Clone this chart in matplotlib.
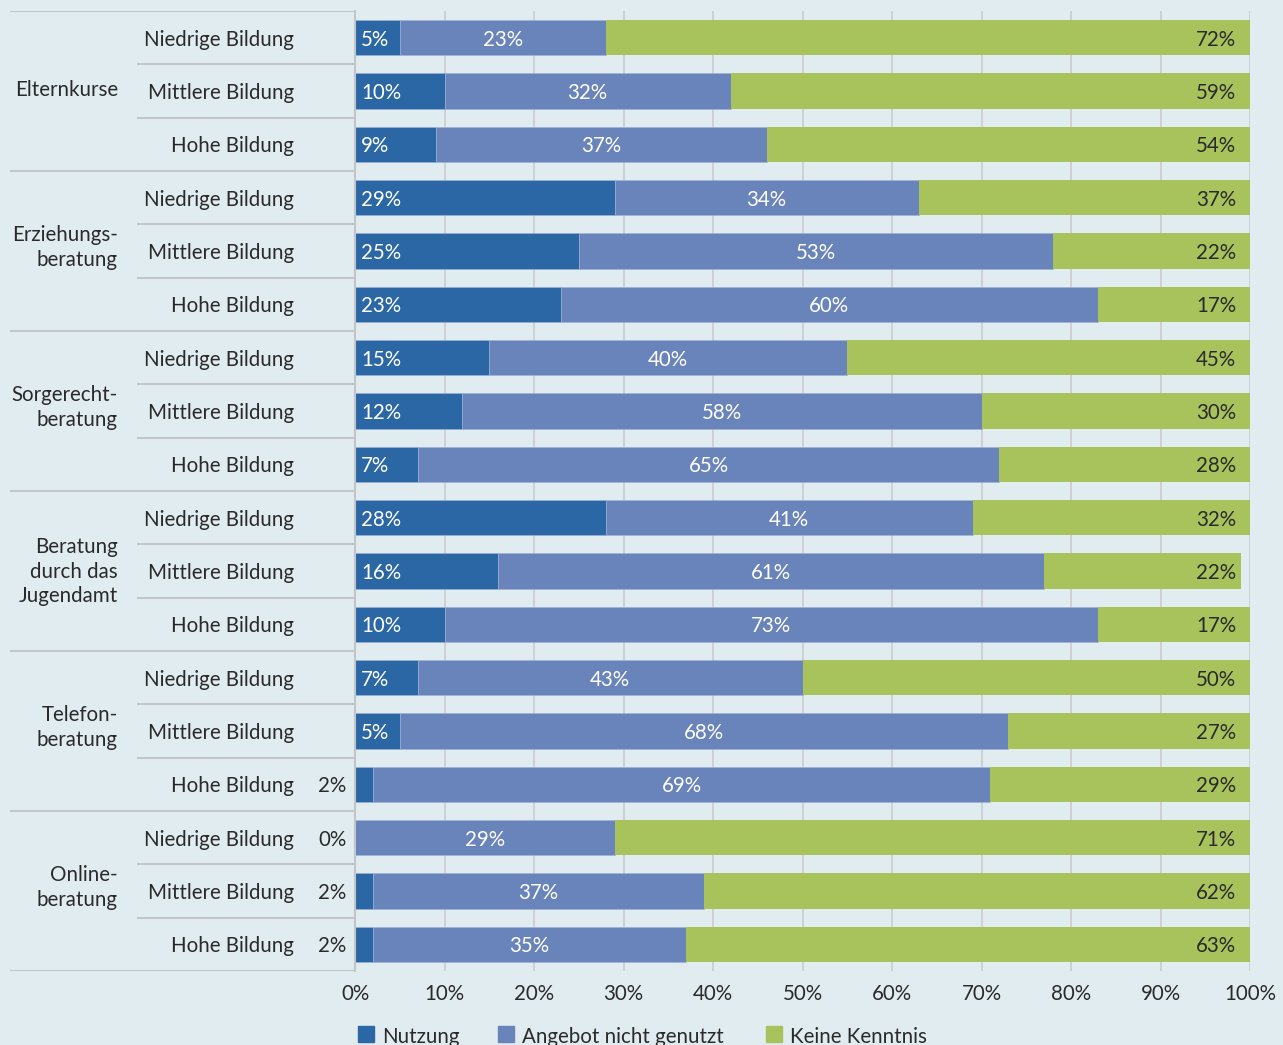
import matplotlib
matplotlib.use("Agg")
import matplotlib.pyplot as plt
from matplotlib.patches import Rectangle

plt.rcParams['font.family'] = ['Lato', 'DejaVu Sans']

groups = ["Elternkurse", "Erziehungs-\nberatung", "Sorgerecht-\nberatung",
          "Beratung\ndurch das\nJugendamt", "Telefon-\nberatung", "Online-\nberatung"]
levels = ["Niedrige Bildung", "Mittlere Bildung", "Hohe Bildung"]

nutzung = [5, 10, 9, 29, 25, 23, 15, 12, 7, 28, 16, 10, 7, 5, 2, 0, 2, 2]
nicht_genutzt = [23, 32, 37, 34, 53, 60, 40, 58, 65, 41, 61, 73, 43, 68, 69, 29, 37, 35]
keine_kenntnis = [72, 59, 54, 37, 22, 17, 45, 30, 28, 32, 22, 17, 50, 27, 29, 71, 62, 63]

series_names = ["Nutzung", "Angebot nicht genutzt", "Keine Kenntnis"]
colors = ["#2c67a5", "#6983bb", "#a8c25c"]
bg = "#e1ecf0"
text_dark = "#2a2a2a"
line_gray = "#c3c6c9"

W, H = 1283, 1045
fig = plt.figure(figsize=(W / 100, H / 100), dpi=100, facecolor=bg)

ax_l, ax_r, ax_t, ax_b = 355, 1250, 11, 971
ax = fig.add_axes([ax_l / W, 1 - ax_b / H, (ax_r - ax_l) / W, (ax_b - ax_t) / H])
ax.set_facecolor(bg)

n = len(nutzung)
rows = list(range(n))
bar_h = 0.66
fs = 14.8
va = "center_baseline"

ax.barh(rows, nutzung, height=bar_h, color=colors[0], edgecolor="#9fb3d6", linewidth=0.4, zorder=3)
left2 = nutzung
ax.barh(rows, nicht_genutzt, left=left2, height=bar_h, color=colors[1], edgecolor="#9fb3d6", linewidth=0.4, zorder=3)
left3 = [a + b for a, b in zip(nutzung, nicht_genutzt)]
ax.barh(rows, keine_kenntnis, left=left3, height=bar_h, color=colors[2], edgecolor="none", linewidth=0, zorder=3)

ax.set_xlim(0, 100)
ax.set_ylim(n - 0.5, -0.5)
ax.set_xticks(range(0, 101, 10))
ax.set_xticklabels([f"{v}%" for v in range(0, 101, 10)], fontsize=fs, color=text_dark)
ax.tick_params(axis="x", length=0, pad=9)
ax.set_yticks([])
ax.grid(axis="x", color="#c8c9cc", linewidth=1.1, zorder=0)
for s in ["top", "right", "bottom"]:
    ax.spines[s].set_visible(False)
ax.spines["left"].set_color(line_gray)
ax.spines["left"].set_linewidth(1.5)
ax.spines["left"].set_zorder(4)

# value labels
for i in rows:
    a, b, c = nutzung[i], nicht_genutzt[i], keine_kenntnis[i]
    if a >= 3:
        ax.annotate(f"{a}%", (0, i), xytext=(4.3, 0), textcoords="offset points",
                    ha="left", va=va, color="white", fontsize=fs, zorder=5)
    else:
        ax.annotate(f"{a}%", (0, i), xytext=(-6, 0), textcoords="offset points",
                    ha="right", va=va, color=text_dark, fontsize=fs, zorder=5,
                    annotation_clip=False)
    ax.text(a + b / 2, i, f"{b}%", ha="center", va=va, color="white", fontsize=fs, zorder=5)
    ax.annotate(f"{c}%", (100, i), xytext=(-10, 0), textcoords="offset points",
                ha="right", va=va, color=text_dark, fontsize=fs, zorder=5)

# category label panel
lab_l = 10
axl = fig.add_axes([lab_l / W, 1 - ax_b / H, (ax_l - lab_l) / W, (ax_b - ax_t) / H],
                   sharey=ax)
axl.set_xlim(lab_l, ax_l)
axl.axis("off")
sub_x0 = 137
for g, name in enumerate(groups):
    top = g * 3 - 0.5
    axl.plot([lab_l, ax_l], [top, top], color=line_gray, lw=1.5, solid_capstyle="butt")
    for k in (1, 2):
        y = top + k
        axl.plot([sub_x0, ax_l], [y, y], color=line_gray, lw=1.5, solid_capstyle="butt")
    nlines = name.count("\n") + 1
    dy = {1: 1.0, 2: 2.5, 3: -0.5}[nlines]
    axl.annotate(name, (118, g * 3 + 1), xytext=(0, dy), textcoords="offset points",
                 ha="right", va="center", fontsize=fs, color=text_dark, linespacing=1.3)
    for k, lv in enumerate(levels):
        axl.text(294, g * 3 + k, lv, ha="right", va=va, fontsize=fs, color=text_dark)
axl.plot([lab_l, ax_l], [n - 0.5, n - 0.5], color=line_gray, lw=1.5, solid_capstyle="butt")

# legend
leg_items = [(358, 382), (498, 522), (766, 790)]
for (sx, tx), name, col in zip(leg_items, series_names, colors):
    fig.patches.append(Rectangle((sx / W, 1 - 1042 / H), 16 / W, 16 / H,
                                 transform=fig.transFigure, color=col))
    fig.text(tx / W, 1 - 1035 / H, name, ha="left", va=va, fontsize=fs, color=text_dark)

fig.savefig("out.png", dpi=100, facecolor=bg)
